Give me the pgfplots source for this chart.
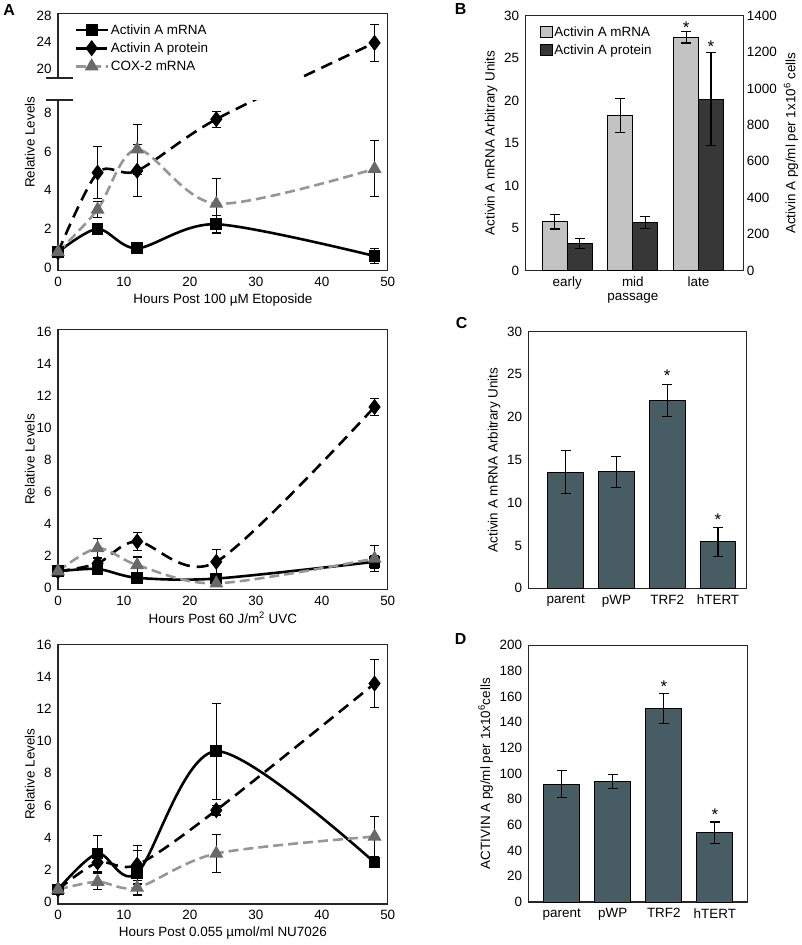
\documentclass[border=0pt]{standalone}
\usepackage{pgfplots}
\pgfplotsset{compat=1.18}
\usepackage{fontspec}
\setmainfont{Liberation Sans}
\definecolor{coxline}{RGB}{150,150,150}
\definecolor{coxmark}{RGB}{105,105,105}
\definecolor{lbar}{RGB}{195,195,195}
\definecolor{dbar}{RGB}{55,55,55}
\definecolor{slate}{RGB}{72,92,99}
\newcommand{\fs}{\fontsize{13.5}{15}\selectfont}
\newcommand{\fstar}{\fontsize{17}{18}\selectfont}

\pgfplotsset{
 base/.style={scale only axis, axis line style={black!85, line width=1.2bp}, major tick length=0pt,
   tick label style={font=\fs}, label style={font=\fs}, /pgf/number format/assume math mode=true,
   /pgf/number format/1000 sep={},
   xticklabel style={yshift=-3bp}, yticklabel style={xshift=-3bp}, clip=false},
 lineaxis/.style={base, width=330bp, xmin=0, xmax=50, xtick={0,10,...,50}, ylabel={Relative Levels},
   ylabel style={yshift=-5bp}},
 errs/.style={error bars/.cd, y dir=both, y explicit,
   error bar style={line width=1.1bp, black, solid},
   error mark options={rotate=90, mark size=4.5bp, line width=1.1bp, black, solid}},
 mrna/.style={black, line width=2.6bp, smooth, tension=0.5, mark=square*, mark size=4.6bp, mark options={solid, fill=black}, errs},
 prot/.style={black, line width=2.6bp, dash pattern=on 12bp off 7bp, smooth, tension=0.5, mark=diamond*, mark size=6bp, mark options={solid, fill=black}, errs},
 cox/.style={coxline, line width=2.6bp, dash pattern=on 10bp off 5bp, smooth, tension=0.5, mark=triangle*, mark size=5.5bp, mark options={solid, fill=coxmark, draw=coxmark}, errs},
 boxleg/.style={legend image code/.code={\draw[##1, line width=0.8bp] (0bp,-5.5bp) rectangle (12bp,5.5bp);}},
 barerr/.style={error bars/.cd, y dir=both, y explicit,
   error bar style={line width=1.1bp, black},
   error mark options={rotate=90, mark size=5bp, line width=1.1bp, black}},
}

\begin{document}
\begin{tikzpicture}
\path (0bp,0bp) rectangle (800bp,945bp);

% ---------------- Panel A (top): Etoposide, broken y axis ----------------
% upper segment (20..28) is drawn in display units: 20 -> 10.26, 24 -> 11.63, 28 -> 13.0
\begin{axis}[lineaxis, at={(57bp,675bp)}, anchor=south west, height=257bp,
  ymin=-0.15, ymax=13.1, ytick={0,2,4,6,8,10.26,11.63,13}, yticklabels={0,2,4,6,8,20,24,28},
  xlabel={Hours Post 100 µM Etoposide},
  legend style={at={(0.04,0.975)}, anchor=north west, draw=none, fill=none, font=\fs, row sep=3bp},
  legend cell align=left,
  legend image code/.code={\draw[mark repeat=2, mark phase=2] plot coordinates {(0bp,0bp) (16bp,0bp) (32bp,0bp)};}]
\addplot[mrna] coordinates {(0,0.8) +- (0,0.05) (6,2.0) +- (0,0.12) (12,1.0) +- (0,0.15) (24,2.24) +- (0,0.45) (48,0.6) +- (0,0.37)};
\addlegendentry{Activin A mRNA}
\addplot[prot] coordinates {(0,0.8) +- (0,0) (6,4.9) +- (0,1.33) (12,5.0) +- (0,1.35) (24,7.66) +- (0,0.42) (48,11.6) +- (0,0.95)};
\addlegendentry{Activin A protein}
\addplot[cox] coordinates {(0,0.8) +- (0,0) (6,3.0) +- (0,0.4) (12,6.1) +- (0,1.3) (24,3.3) +- (0,1.3) (48,5.1) +- (0,1.45)};
\addlegendentry{COX-2 mRNA}
\coordinate (brlo) at (axis cs:0,8.66);
\coordinate (brhi) at (axis cs:50,9.8);
\end{axis}
\fill[white] ([xshift=-3bp]brlo) rectangle ([xshift=-2bp]brhi);
\draw[black!85, line width=1.6bp] ([xshift=-12bp]brlo) -- ([xshift=15bp]brlo);
\draw[black!85, line width=1.6bp] ([xshift=-12bp]brlo|-brhi) -- ([xshift=15bp]brlo|-brhi);

% ---------------- Panel A (middle): UVC ----------------
\begin{axis}[lineaxis, at={(57bp,356bp)}, anchor=south west, height=260bp,
  ymin=-0.12, ymax=16.12, ytick={0,2,...,16},
  xlabel={Hours Post 60 J/m\textsuperscript{2} UVC}]
\addplot[mrna] coordinates {(0,1.0) +- (0,0.2) (6,1.15) +- (0,0.3) (12,0.6) +- (0,0.1) (24,0.55) +- (0,0.1) (48,1.6) +- (0,0.4)};
\addplot[prot] coordinates {(0,1.0) +- (0,0) (6,1.5) +- (0,0.3) (12,2.87) +- (0,0.55) (24,1.6) +- (0,0.75) (48,11.28) +- (0,0.55)};
\addplot[cox] coordinates {(0,1.0) +- (0,0) (6,2.45) +- (0,0.6) (12,1.4) +- (0,0.5) (24,0.25) +- (0,0.1) (48,1.8) +- (0,0.8)};
\end{axis}

% ---------------- Panel A (bottom): NU7026 ----------------
\begin{axis}[lineaxis, at={(57bp,41bp)}, anchor=south west, height=260bp,
  ymin=-0.15, ymax=16.05, ytick={0,2,...,16},
  xlabel={Hours Post 0.055 µmol/ml NU7026}]
\addplot[mrna] coordinates {(0,0.75) +- (0,0.1) (6,3.0) +- (0,1.1) (12,1.78) +- (0,1.4) (24,9.38) +- (0,3.0) (48,2.44) +- (0,0.3)};
\addplot[prot] coordinates {(0,0.75) +- (0,0) (6,2.44) +- (0,0.6) (12,2.3) +- (0,1.2) (24,5.7) +- (0,0.3) (48,13.6) +- (0,1.5)};
\addplot[cox] coordinates {(0,0.75) +- (0,0) (6,1.24) +- (0,0.5) (12,0.87) +- (0,0.45) (24,3.0) +- (0,1.17) (48,4.06) +- (0,1.25)};
\end{axis}

% ---------------- Panel B ----------------
% groups early/mid/late at x = 1,2,3; mRNA bars at x-0.19, protein bars at x+0.19
\begin{axis}[base, at={(525bp,675bp)}, anchor=south west, width=218bp, height=255bp,
  xmin=0.367, xmax=3.684, ymin=0, ymax=30, ytick={0,5,...,30}, ytick pos=left,
  xtick={1,2,3}, xticklabels={early,mid,late},
  ylabel={Activin A mRNA Arbitrary Units}]
\addplot[ybar, bar width=0.38, bar shift=0, fill=lbar, draw=black, line width=1bp, barerr]
  coordinates {(0.81,5.76) +- (0,0.87) (1.81,18.3) +- (0,2.0) (2.81,27.5) +- (0,0.7)};
\node[font=\fstar, anchor=south, inner sep=0pt, yshift=-3bp] at (axis cs:2.81,28.2) {*};
\node[font=\fs, anchor=north, yshift=-19bp] at (axis cs:2,0) {passage};
\end{axis}
\begin{axis}[base, at={(525bp,675bp)}, anchor=south west, width=218bp, height=255bp,
  xmin=0.367, xmax=3.684, ymin=0, ymax=1400, ytick={0,200,...,1400},
  axis x line=none, axis y line*=right,
  ylabel={Activin A pg/ml per 1x10\textsuperscript{6} cells},
  yticklabel style={xshift=3bp},
  legend style={at={(0.05,0.975)}, anchor=north west, draw=none, fill=none, font=\fs, row sep=3bp},
  legend cell align=left]
\addlegendimage{boxleg, fill=lbar, draw=black}
\addlegendentry{Activin A mRNA}
\addplot[ybar, bar width=0.38, bar shift=0, fill=dbar, draw=black, line width=1bp, boxleg, barerr]
  coordinates {(1.19,148) +- (0,26) (2.19,265) +- (0,32) (3.19,942) +- (0,254)};
\addlegendentry{Activin A protein}
\node[font=\fstar, anchor=south, inner sep=0pt, yshift=0bp] at (axis cs:3.19,1196) {*};
\end{axis}

% ---------------- Panel C ----------------
\begin{axis}[base, at={(528bp,357bp)}, anchor=south west, width=218bp, height=257bp,
  xmin=0.27, xmax=4.56, ymin=0, ymax=30, ytick={0,5,...,30},
  xtick={1,2,3,4}, xticklabels={parent,pWP,TRF2,hTERT},
  ylabel={Activin A mRNA Arbitrary Units}]
\addplot[ybar, bar width=0.70, bar shift=0, fill=slate, draw=black, line width=1bp, barerr]
  coordinates {(1,13.55) +- (0,2.5) (2,13.6) +- (0,1.85) (3,21.95) +- (0,1.9) (4,5.43) +- (0,1.7)};
\node[font=\fstar, anchor=south, inner sep=0pt, yshift=2bp] at (axis cs:3,23.85) {*};
\node[font=\fstar, anchor=south, inner sep=0pt, yshift=2bp] at (axis cs:4,7.13) {*};
\end{axis}

% ---------------- Panel D ----------------
\begin{axis}[base, at={(528bp,43bp)}, anchor=south west, width=219bp, height=257bp,
  xmin=0.35, xmax=4.64, ymin=0, ymax=200, ytick={0,20,...,200},
  xtick={1,2,3,4}, xticklabels={parent,pWP,TRF2,hTERT},
  ylabel={ACTIVIN A pg/ml per 1x10\textsuperscript{6}cells}]
\addplot[ybar, bar width=0.71, bar shift=0, fill=slate, draw=black, line width=1bp, barerr]
  coordinates {(1,91.7) +- (0,10.5) (2,94) +- (0,5.5) (3,150.6) +- (0,11.5) (4,53.8) +- (0,8.5)};
\node[font=\fstar, anchor=south, inner sep=0pt, yshift=1bp] at (axis cs:3,162.3) {*};
\node[font=\fstar, anchor=south, inner sep=0pt, yshift=1bp] at (axis cs:4,62.3) {*};
\end{axis}

% panel letters
\node[font=\fontsize{16}{18}\selectfont\bfseries] at (8bp,936bp) {A};
\node[font=\fontsize{16}{18}\selectfont\bfseries] at (460bp,937bp) {B};
\node[font=\fontsize{16}{18}\selectfont\bfseries] at (461bp,623bp) {C};
\node[font=\fontsize{16}{18}\selectfont\bfseries] at (460bp,306.5bp) {D};
\end{tikzpicture}
\end{document}
